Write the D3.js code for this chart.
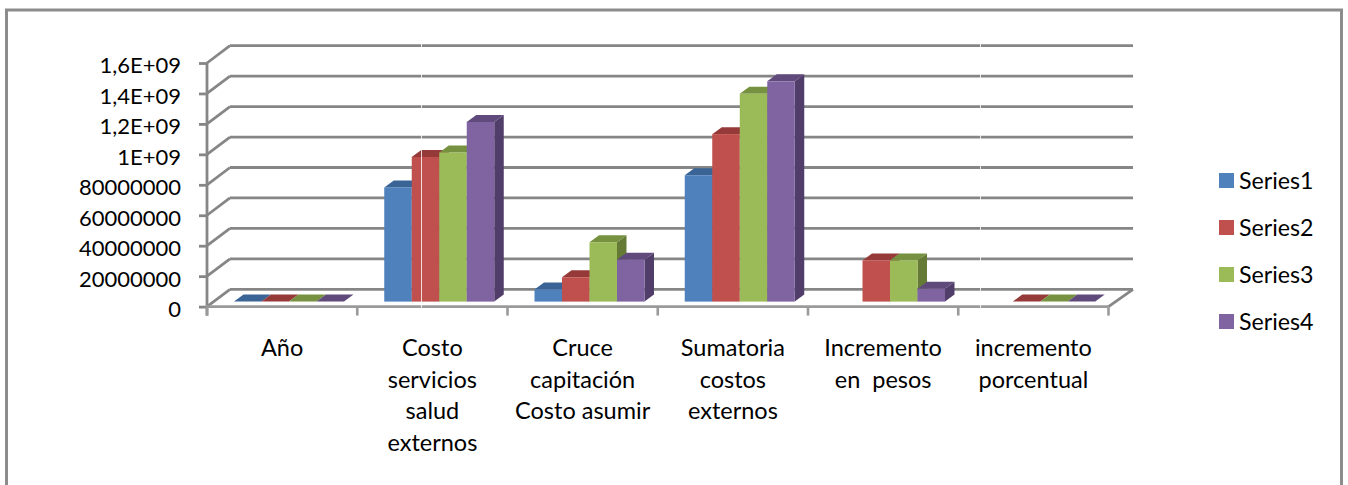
<!DOCTYPE html>
<html><head><meta charset="utf-8">
<script src="https://cdn.jsdelivr.net/npm/d3@7/dist/d3.min.js"></script>
<style>html,body{margin:0;padding:0;background:#fff}svg{display:block}text{font-family:Lato,"Open Sans",sans-serif;fill:#000}</style>
</head><body><svg id="c" width="1348" height="485"></svg>
<script>
const categories = [["Año"],["Costo","servicios","salud","externos"],["Cruce","capitación","Costo asumir"],["Sumatoria","costos","externos"],["Incremento","en  pesos"],["incremento","porcentual"]];
const seriesNames = ["Series1","Series2","Series3","Series4"];
const series1 = [0, 7.5e8, 8e7, 8.3e8, null, null];
const series2 = [0, 9.5e8, 1.6e8, 1.1e9, 2.7e8, 0];
const series3 = [0, 9.8e8, 3.9e8, 1.365e9, 2.7e8, 0];
const series4 = [0, 1.18e9, 2.75e8, 1.447e9, 8.4e7, 0];
const tickValues = [0,2e8,4e8,6e8,8e8,1e9,1.2e9,1.4e9,1.6e9];
const tickLabels = ["0","20000000","40000000","60000000","80000000","1E+09","1,2E+09","1,4E+09","1,6E+09"];
const frontColors = ["#4F81BD","#C0504D","#9BBB59","#8064A2"];
const topColors = ["#3A6495","#953A38","#76913F","#604A7B"];
const sideColors = ["#325580","#7F3230","#647A35","#513D6A"];

const allSeries = [series1,series2,series3,series4];
const GRID = "#868686";
const svg = d3.select("#c");
const wallDX = 23, wallDY = 17.3, barDX = 9.5, barDY = 7, baseLift = 5;
const y = d3.scaleLinear().domain([0,1.6e9]).range([306.6,63]);
const x0 = d3.scaleBand().domain(d3.range(categories.length)).range([207,1108.5]);
const x1 = d3.scaleBand().domain(d3.range(seriesNames.length)).range([27,137]);

// frame
svg.append("path").attr("d","M6.5,485V10H1341.5V485").attr("fill","none").attr("stroke","#8c8c8c").attr("stroke-width",3);

// back wall, side wall
const grid = svg.append("g").attr("stroke",GRID).attr("stroke-width",2.8).attr("fill","none");
grid.selectAll(".b").data(tickValues).join("line")
  .attr("x1",207+wallDX).attr("x2",1133).attr("y1",d=>y(d)-wallDY).attr("y2",d=>y(d)-wallDY);
grid.selectAll(".s").data(tickValues).join("line")
  .attr("x1",207).attr("x2",207+wallDX).attr("y1",d=>y(d)).attr("y2",d=>y(d)-wallDY);
grid.append("line").attr("x1",1108.5).attr("x2",1133).attr("y1",y(0)).attr("y2",y(0)-wallDY);

// axes
const yAxis = d3.axisLeft(y).tickValues(tickValues).tickSize(8).tickPadding(18)
  .tickFormat((d,i)=>tickLabels[i]);
const gy = svg.append("g").attr("transform","translate(207,0)").call(yAxis);
gy.selectAll("line,path").attr("stroke",GRID).attr("stroke-width",2.8);
gy.select("path").attr("d",`M0,${y(0)+9}V${y(1.6e9)}`);
gy.selectAll("text").attr("font-size",22).attr("dy","0.45em");

const xLine = svg.append("g").attr("stroke","#9a9a9a").attr("stroke-width",2.6);
xLine.append("line").attr("x1",206).attr("x2",1108.5).attr("y1",y(0)).attr("y2",y(0));
xLine.selectAll(".t").data(d3.range(categories.length+1)).join("line")
  .attr("x1",i=>x0(0)+i*x0.step()).attr("x2",i=>x0(0)+i*x0.step())
  .attr("y1",y(0)).attr("y2",y(0)+9);

// bars
const bars = svg.append("g");
categories.forEach((_,c)=>{
  allSeries.forEach((vals,s)=>{
    const v = vals[c]; if (v===null) return;
    const xL = x0(c)+x1(s), xR = xL+x1.bandwidth();
    const yB = y(0)-baseLift, yT = y(v)-baseLift;
    const g = bars.append("g");
    if (v>0) g.append("path").attr("fill",sideColors[s])
      .attr("d",`M${xR},${yT}L${xR+barDX},${yT-barDY}V${yB-barDY}L${xR},${yB}Z`);
    g.append("path").attr("fill",topColors[s])
      .attr("d",`M${xL},${yT}L${xL+barDX},${yT-barDY}H${xR+barDX}L${xR},${yT}Z`);
    if (v>0) g.append("rect").attr("fill",frontColors[s])
      .attr("x",xL).attr("y",yT).attr("width",x1.bandwidth()).attr("height",yB-yT);
  });
});

// category labels
const lab = svg.append("g").attr("text-anchor","middle").attr("font-size",23.5);
categories.forEach((lines,c)=>{
  const t = lab.append("text").attr("xml:space","preserve").style("white-space","pre");
  lines.forEach((l,i)=>t.append("tspan").attr("x",x0(c)+x0.bandwidth()/2).attr("y",356+i*31.7).text(l));
});

// legend
const legY = d3.scalePoint().domain(seriesNames).range([180.5,321.5]);
const leg = svg.append("g").selectAll("g").data(seriesNames).join("g")
  .attr("transform",d=>`translate(1219,${legY(d)})`);
leg.append("rect").attr("y",-7.5).attr("width",15).attr("height",15).attr("fill",(d,i)=>frontColors[i]);
leg.append("text").attr("x",20).attr("y",8).attr("font-size",23.2).text(d=>d);

// thin white seams in the picture
svg.append("g").attr("stroke","#fff").attr("stroke-width",1).attr("opacity",.8)
  .selectAll("line").data([421.5,980.5]).join("line")
  .attr("x1",d=>d).attr("x2",d=>d).attr("y1",40).attr("y2",312);
</script></body></html>
